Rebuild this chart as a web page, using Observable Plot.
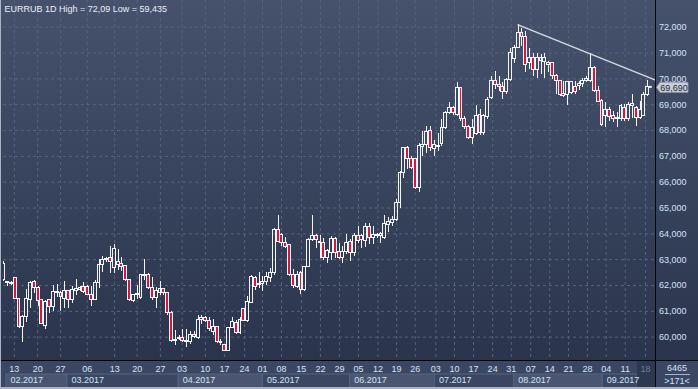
<!DOCTYPE html>
<html><head><meta charset="utf-8">
<script src="https://cdn.jsdelivr.net/npm/d3@7"></script>
<script src="https://cdn.jsdelivr.net/npm/@observablehq/plot@0.6"></script>
<style>
html,body{margin:0;padding:0;background:#3b4762;}
#chart{position:relative;width:698px;height:389px;overflow:hidden;font-family:"Liberation Sans",Arial,sans-serif;
 background:linear-gradient(to bottom,#46526c 0px,#2a344d 360px,#2a344d 389px);}
#main{position:absolute;left:0;top:0;}
#strip{position:absolute;left:0;top:360px;background:#3b4762;}
.ln{position:absolute;}
</style></head><body><div id="chart"><div id="main"></div><div id="strip"></div></div>
<script>
// ---- data: daily candles EURRUB (Feb–Sep 2017) ----
const opens  = [62.2,62.08,62.05,62.29,61.47,60.38,60.77,61.44,62.12,61.92,61.42,60.45,61.42,61.15,61.7,61.7,61.47,61.78,61.45,61.8,
61.83,61.96,61.96,61.64,61.44,62.1,62.8,62.98,63.06,62.68,62.8,62.85,62.75,62.2,61.4,61.62,61.5,62.38,62.42,61.9,
61.5,61.7,61.85,61.7,60.95,59.85,59.92,59.95,59.82,59.83,60.1,59.95,60.65,60.75,60.62,60.2,60.4,59.78,59.68,59.45,
60.36,60.56,60.15,61.08,60.62,61.34,62.3,62.0,62.05,62.12,62.3,62.47,64.15,63.95,63.63,63.55,62.42,61.95,62.47,61.82,
62.7,63.77,63.9,63.65,63.64,63.06,63.25,63.8,63.28,63.06,63.28,63.7,63.25,63.9,63.75,63.73,64.28,63.83,63.9,63.9,
63.83,64.35,64.42,64.54,65.19,66.35,67.32,66.9,66.9,65.77,67.38,67.44,68.0,67.3,67.35,67.46,68.1,68.68,68.88,68.62,
69.65,68.43,68.14,67.72,67.85,68.62,67.92,68.53,69.26,69.9,69.78,69.7,69.5,69.97,70.77,71.19,71.77,71.64,70.6,70.8,
70.36,70.7,70.65,70.61,70.6,70.1,69.9,69.4,69.39,69.45,69.7,69.74,69.8,69.9,69.9,70.42,69.52,69.13,68.56,68.8,
68.56,68.43,68.43,68.88,68.43,68.96,68.88,68.5,68.58,69.38];
const highs  = [62.94,62.15,62.14,62.31,61.5,60.82,61.83,62.15,62.2,61.95,61.45,61.4,61.42,62.0,62.05,61.75,62.15,61.8,61.95,62.22,
61.97,62.1,62.0,61.96,62.2,63.0,63.13,63.1,63.5,63.58,63.4,63.1,62.78,62.22,61.65,62.0,62.42,63.0,62.45,62.3,
61.92,62.15,61.9,61.72,61.0,60.27,60.05,60.3,60.3,60.22,60.2,60.85,60.85,60.8,60.75,60.7,60.42,59.9,59.7,60.38,
60.78,60.65,60.78,61.1,61.56,62.4,62.35,62.5,62.34,62.5,62.64,64.2,64.7,64.03,63.85,63.6,62.6,62.56,62.56,62.75,
63.83,64.7,63.98,63.93,63.83,63.38,63.9,63.84,63.64,63.5,63.96,63.77,64.03,64.3,63.96,64.41,64.41,64.28,64.03,64.06,
64.7,64.64,64.67,65.32,66.41,67.35,67.38,66.99,66.9,67.5,67.96,68.15,68.14,67.6,67.9,68.43,68.75,69.07,68.92,69.84,
69.67,68.56,68.2,68.43,68.97,68.8,68.62,69.26,70.1,70.29,70.1,69.84,70.03,71.19,71.28,72.09,71.96,71.83,71.19,71.0,
71.0,70.93,71.0,70.68,70.61,70.16,69.9,69.9,69.9,69.9,69.9,69.9,70.03,70.1,71.0,70.48,69.71,69.2,69.07,68.88,
68.75,68.68,69.0,69.0,69.07,69.39,68.94,69.14,69.48,69.94];
const lows   = [62.16,61.98,62.0,61.45,60.35,59.78,60.55,61.1,61.7,61.2,60.5,60.29,60.9,61.0,61.55,61.0,61.1,61.1,61.3,61.6,
61.78,61.7,61.6,61.2,61.4,61.9,62.5,62.9,62.48,62.48,62.57,62.55,62.15,61.38,61.35,61.45,61.45,62.2,61.85,61.4,
61.1,61.6,61.6,60.85,59.8,59.68,59.88,59.8,59.6,59.7,59.95,59.9,60.5,60.55,60.2,60.05,59.75,59.68,59.435,59.44,
60.33,60.1,60.1,60.6,60.55,61.3,61.82,61.88,61.75,62.0,62.12,62.4,63.67,63.5,63.44,62.35,61.88,61.88,61.65,61.78,
62.7,63.7,63.45,63.06,62.97,62.86,62.97,63.06,62.99,62.84,63.19,62.93,63.12,63.64,63.45,63.48,63.57,63.57,63.83,63.64,
63.77,64.05,64.28,64.48,64.99,66.15,66.48,66.48,65.7,65.6,66.99,67.12,67.2,67.0,67.2,67.4,68.04,68.62,68.58,68.56,
68.36,68.04,67.66,67.47,67.8,67.8,67.8,68.43,69.2,69.58,69.52,69.2,69.4,69.9,70.6,71.19,71.25,70.25,70.35,70.1,
70.03,70.16,70.03,70.23,69.97,69.39,69.33,69.26,68.97,69.39,69.39,69.55,69.65,69.87,69.84,69.48,69.07,68.14,68.1,68.36,
68.3,68.1,68.36,68.36,68.36,68.45,68.14,68.43,68.56,69.33];
const closes = [62.85,62.12,62.1,61.47,60.38,60.77,61.47,62.1,61.9,61.4,60.52,61.35,61.16,61.76,61.75,61.55,61.77,61.45,61.83,61.85,
61.9,61.73,61.64,61.44,62.1,62.8,63.0,63.02,62.9,63.43,62.9,62.7,62.2,61.45,61.63,61.67,62.4,62.42,61.9,61.5,
61.8,61.85,61.7,60.95,59.85,59.9,59.95,59.87,59.86,60.1,60.0,60.66,60.75,60.62,60.33,60.4,59.8,59.82,59.45,60.36,
60.58,60.15,60.67,60.64,61.36,62.34,61.95,62.06,62.12,62.34,62.47,64.15,63.7,63.63,63.5,62.4,61.98,62.4,61.82,62.73,
63.77,63.9,63.77,63.7,63.06,63.35,63.8,63.25,63.06,63.28,63.64,63.25,63.9,63.73,63.92,64.28,63.83,63.96,63.96,63.98,
64.37,64.47,64.54,65.19,66.35,67.32,66.89,66.55,65.77,67.4,67.44,67.96,67.33,67.45,67.42,68.1,68.68,68.88,68.68,69.65,
68.43,68.14,67.72,68.1,68.56,67.91,68.56,69.2,69.9,69.78,69.69,69.5,69.97,71.0,71.19,71.77,71.64,70.55,70.8,70.36,
70.8,70.8,70.8,70.55,70.1,69.9,69.39,69.33,69.87,69.87,69.48,69.8,69.9,70.0,70.42,69.52,69.1,68.2,68.81,68.53,
68.43,68.49,68.94,68.43,69.0,69.03,68.5,68.81,69.38,69.69];

// value axis
const yTicks = [60,61,62,63,64,65,66,67,68,69,70,71,72];
// date axis: week labels (bar-index positions) and months
const dayLabels = ["13","20","27","06","13","20","27","03","10","17","24","01","08","15","22","29",
                   "05","12","19","26","03","10","17","24","31","07","14","21","28","04","11","18"];
const dayPos = [2.76,8.9,14.9,21.9,29.1,35.0,41.1,46.8,52.9,57.9,63.2,67.9,72.9,78.1,83.1,88.1,
                93.1,98.2,103.1,108.0,113.4,118.3,123.3,128.3,133.2,138.3,143.3,148.2,153.2,158.1,163.1,168.4];
const monthLabels = ["02.2017","03.2017","04.2017","05.2017","06.2017","07.2017","08.2017","09.2017"];
const monthStart = [0.71,16.7,45.9,68.0,90.9,113.2,134.0,157.2];
const futureStart = 166.3;
// trend line (resistance) through the highs
const trendIdx = [135, 171.05];
const trendVal = [72.09, 69.95];
const title = "EURRUB 1D High = 72,09 Low = 59,435";
const lastPrice = 69.690;
const barsCount = "6465";
const visibleBars = ">171<";

// ---- build ----
const bars = opens.map((o, i) => ({i, o, h: highs[i], l: lows[i], c: closes[i]}));
const upBars = bars.filter(d => d.c >= d.o);
const downBars = bars.filter(d => d.c < d.o);
const trend = trendIdx.map((x, k) => ({x, y: trendVal[k]}));
const xDomain = [-0.079, 171.05];
const W = 698, ML = 3, MR = 43;
const fmtY = d => d3.format(".3f")(d).replace(".", ",");
const white = "#f3f5f9", red = "#d3173f", grid = "#56627d", axisText = "#d3e2f7";
const hw = 0.38;

const main = Plot.plot({
  width: W, height: 360, marginLeft: ML, marginRight: MR, marginTop: 0, marginBottom: 0,
  style: {background: "transparent", fontFamily: "Liberation Sans, Arial, sans-serif", overflow: "visible"},
  x: {domain: xDomain, axis: null},
  y: {domain: [59.096, 73.034], axis: null},
  marks: [
    Plot.ruleY(yTicks, {y: d => d, stroke: grid, strokeWidth: 1, strokeDasharray: "3,3"}),
    Plot.ruleX(dayPos, {x: d => d, stroke: grid, strokeWidth: 1, strokeDasharray: "3,3"}),
    Plot.text(yTicks, {y: d => d, text: fmtY, frameAnchor: "right", dx: 3.5, textAnchor: "start", fill: axisText, fontSize: 9}),
    Plot.ruleX(bars, {x: "i", y1: d => Math.max(d.o, d.c), y2: "h", stroke: white, clip: true, shapeRendering: "crispEdges"}),
    Plot.ruleX(bars, {x: "i", y1: "l", y2: d => Math.min(d.o, d.c), stroke: white, clip: true, shapeRendering: "crispEdges"}),
    Plot.rect(upBars, {x1: d => d.i - hw, x2: d => d.i + hw, y1: "o", y2: "c", fill: "none", stroke: white, strokeWidth: 1, clip: true, shapeRendering: "crispEdges"}),
    Plot.rect(downBars, {x1: d => d.i - hw, x2: d => d.i + hw, y1: "o", y2: "c", fill: red, stroke: white, strokeWidth: 1, clip: true, shapeRendering: "crispEdges"}),
    Plot.line(trend, {x: "x", y: "y", stroke: "#d6dae2", strokeWidth: 1.4}),
    Plot.ruleY([lastPrice], {y: d => d, x1: bars.length - 0.6, x2: bars.length + 0.2, stroke: white, strokeWidth: 2}),
    Plot.text([title], {frameAnchor: "top-left", dx: 1, dy: 5, text: d => d, textAnchor: "start", lineAnchor: "top", fill: "#e9eef6", fontSize: 9})
  ]
});
document.getElementById("main").appendChild(main);

// price tag on the value axis, positioned through the plot's y scale
{
  const py = main.scale("y").apply(lastPrice) + 1;
  const x0 = W - MR;
  const svg = d3.select(main);
  const g = svg.append("g");
  g.append("path")
    .attr("d", `M${x0 + 1.5},${py} L${x0 + 5},${py - 5} L${x0 + 33},${py - 5} L${x0 + 33},${py + 5} L${x0 + 5},${py + 5} Z`)
    .attr("fill", "#c9cdd5").attr("stroke", "#9aa2b0").attr("stroke-width", 0.8);
  g.append("text").attr("x", x0 + 19).attr("y", py).attr("dy", "0.35em")
    .attr("text-anchor", "middle").attr("font-size", 9).attr("fill", "#1d2b42")
    .text(fmtY(lastPrice));
}

// bottom date strip
const months = monthLabels.map((m, k) => ({m, x1: monthStart[k], x2: k + 1 < monthStart.length ? monthStart[k + 1] : futureStart, k}));
const strip = Plot.plot({
  width: W, height: 29, marginLeft: ML, marginRight: MR, marginTop: 0, marginBottom: 0,
  style: {background: "transparent", fontFamily: "Liberation Sans, Arial, sans-serif", overflow: "visible"},
  x: {domain: xDomain, axis: null},
  y: {domain: [0, 29], range: [0, 29], axis: null},
  marks: [
    Plot.rect(months, {x1: "x1", x2: "x2", y1: 14, y2: 27.5, fill: d => d.k % 2 === 0 ? "#4a5671" : "#3b4762", stroke: "#58647e", strokeWidth: 1}),
    Plot.rect([futureStart], {x1: d => d, x2: xDomain[1], y1: 1, y2: 29, fill: "#2c3750"}),
    Plot.text(months, {x: "x1", y: 20, text: "m", dx: 4, textAnchor: "start", fill: axisText, fontSize: 9}),
    Plot.text(dayLabels, {x: (d, k) => dayPos[k], y: 8.5, text: d => d, fill: (d, k) => dayPos[k] > futureStart ? "#6f7c94" : axisText, fontSize: 9}),
    Plot.text([barsCount], {frameAnchor: "right", dx: 21.5, y: 7.5, text: d => d, textAnchor: "middle", fill: axisText, fontSize: 9}),
    Plot.text([visibleBars], {frameAnchor: "right", dx: 21.5, y: 21, text: d => d, textAnchor: "middle", fill: axisText, fontSize: 9})
  ]
});
document.getElementById("strip").appendChild(strip);

// frame lines
const chart = document.getElementById("chart");
function line(css){ const d = document.createElement("div"); d.className = "ln"; d.style.cssText = css; chart.appendChild(d); }
line("left:0;top:360px;width:698px;height:1px;background:#05070c;");
line("left:655px;top:0;width:1px;height:389px;background:#05070c;");
line("left:665px;top:374px;width:25px;height:1px;background:#aab4c4;");
line("left:0;top:387px;width:698px;height:2px;background:#a9b3c4;");
line("left:0;top:0;width:1px;height:389px;background:#a9b3c4;");
</script></body></html>
